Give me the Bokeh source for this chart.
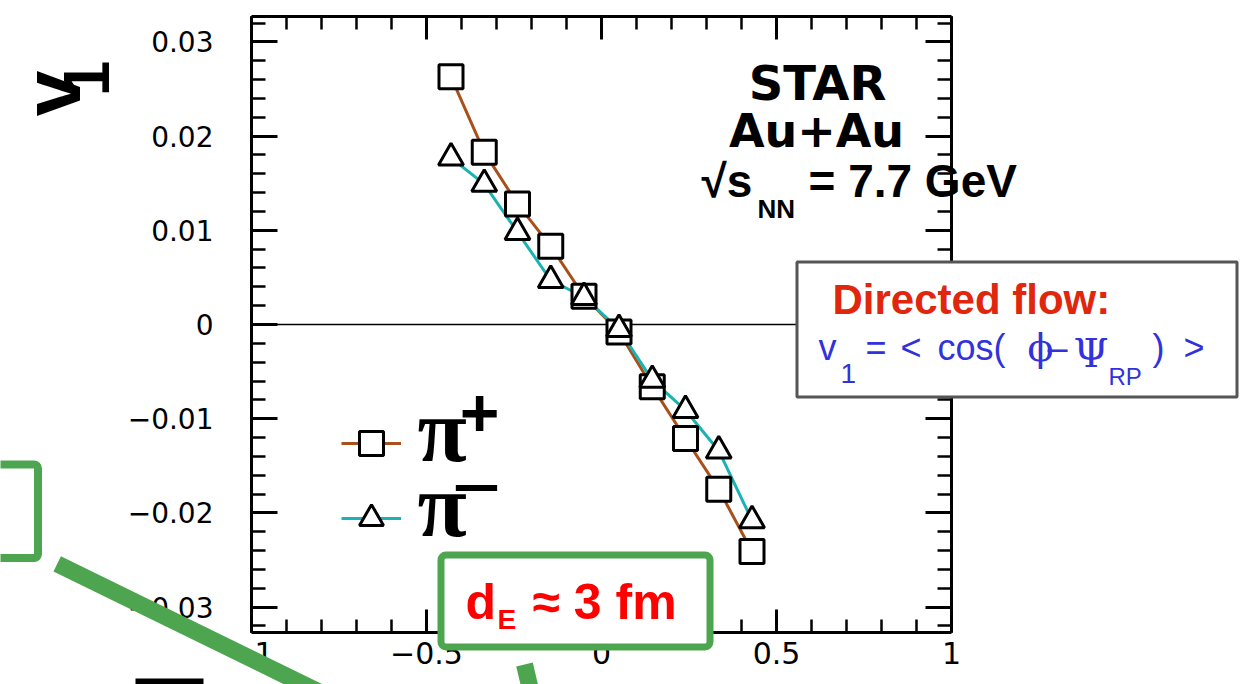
import numpy as np
from bokeh.plotting import figure
from bokeh.models import (Range1d, LinearAxis, FixedTicker, Label, BoxAnnotation,
                          Arrow, Legend, LegendItem)
from bokeh.core.properties import value
from bokeh.embed import file_html
from bokeh.resources import INLINE

# Directed flow v1 of charged pions vs pseudorapidity, STAR Au+Au at 7.7 GeV
eta = [-0.43, -0.335, -0.24, -0.145, -0.05, 0.05, 0.145, 0.24, 0.335, 0.43]
v1_pi_plus = [0.0263, 0.0183, 0.0128, 0.0083, 0.0030, -0.0008, -0.0066, -0.0121, -0.0175, -0.0241]
v1_pi_minus = [0.0177, 0.0149, 0.0098, 0.0047, 0.0029, -0.0005, -0.0059, -0.0091, -0.0134, -0.0208]

x_major = [-1, -0.5, 0, 0.5, 1]
x_labels = ["\u22121", "\u22120.5", "0", "0.5", "1"]
y_major = [-0.03, -0.02, -0.01, 0, 0.01, 0.02, 0.03]
y_labels = ["\u22120.03", "\u22120.02", "\u22120.01", "0", "0.01", "0.02", "0.03"]

# axis box limits
X0, X1 = -1.0, 1.0
Y0, Y1 = -0.0327, 0.0327

# page geometry: the axis box sits inside a full-page drawing area
W, H = 1241, 684
LEFT, TOP, FW, FH = 251, 16, 700, 616
PXU = FW / (X1 - X0)
PYU = FH / (Y1 - Y0)
XS, XE = X0 - LEFT / PXU, X1 + (W - LEFT - FW) / PXU
YE, YS = Y1 + TOP / PYU, Y0 - (H - TOP - FH) / PYU

BROWN = "#a9501a"
TEAL = "#1ab3b3"
GREEN = "#4da64f"
BLUE = "#3232dc"


def dx(px):
    # page pixel column -> x data value
    return XS + px / PXU


def dy(py):
    # page pixel row -> y data value
    return YE - py / PYU


p = figure(frame_width=W, frame_height=H,
           x_range=Range1d(XS, XE), y_range=Range1d(YS, YE),
           x_axis_location=None, y_axis_location=None,
           output_backend="svg", toolbar_location=None,
           min_border=0, background_fill_color="white", border_fill_color="white")
p.xgrid.visible = False
p.ygrid.visible = False
p.outline_line_color = None

xt = FixedTicker(ticks=x_major,
                 minor_ticks=[round(v, 2) for v in np.arange(-1.0, 1.0001, 0.1)])
yt = FixedTicker(ticks=y_major,
                 minor_ticks=[round(v, 3) for v in np.arange(-0.032, 0.03201, 0.002)])


def make_axis(ticker, loc, bounds, major_len, minor_len):
    ax = LinearAxis(ticker=ticker, fixed_location=loc, bounds=bounds)
    ax.axis_line_color = "black"
    ax.axis_line_width = 3
    ax.major_tick_line_color = "black"
    ax.major_tick_line_width = 3
    ax.minor_tick_line_color = "black"
    ax.minor_tick_line_width = 2.5
    ax.major_tick_in = major_len
    ax.major_tick_out = 0
    ax.minor_tick_in = minor_len
    ax.minor_tick_out = 0
    return ax


bx = make_axis(xt, Y0, (X0, X1), 23, 13)
bx.major_label_overrides = dict(zip(x_major, x_labels))
bx.major_label_text_font = "DejaVu Sans"
bx.major_label_text_font_size = "30px"
bx.major_label_text_color = "black"
bx.major_label_standoff = 9
p.add_layout(bx, "below")

ly = make_axis(yt, X0, (Y0, Y1), 26, 14)
ly.major_label_overrides = dict(zip(y_major, y_labels))
ly.major_label_text_font = "DejaVu Sans"
ly.major_label_text_font_size = "28px"
ly.major_label_text_color = "black"
ly.major_label_standoff = 38
p.add_layout(ly, "left")

ry = make_axis(yt, X1, (Y0, Y1), 26, 14)
ry.major_label_overrides = {v: "" for v in y_major}
ry.major_label_text_font_size = "1px"
p.add_layout(ry, "right")

tx = make_axis(xt, Y1, (X0, X1), 23, 13)
tx.major_label_overrides = {v: "" for v in x_major}
tx.major_label_text_font_size = "1px"
p.add_layout(tx, "above")

# zero reference line across the axis box
p.segment(x0=[X0], y0=[0], x1=[X1], y1=[0], line_color="black", line_width=1.5)

# data
l_plus = p.line(eta, v1_pi_plus, line_color=BROWN, line_width=3)
l_minus = p.line(eta, v1_pi_minus, line_color=TEAL, line_width=3)
s_plus = p.scatter(eta, v1_pi_plus, marker="square", size=24, line_color="black",
                   line_width=3, fill_color="white")
s_minus = p.scatter(eta, v1_pi_minus, marker="triangle", size=25, line_color="black",
                    line_width=3, fill_color="white")

legend = Legend(items=[LegendItem(label=value(""), renderers=[l_plus, s_plus]),
                       LegendItem(label=value(""), renderers=[l_minus, s_minus])],
                location=(341, 136), glyph_width=60, glyph_height=60, spacing=15,
                padding=0, margin=0, border_line_color=None,
                background_fill_alpha=0, label_standoff=0, label_width=0,
                label_height=0)
p.add_layout(legend)

BASE_SHIFT = 0.37


def put(text, x, y, size, color="black", font="Liberation Sans", style="normal",
        align="left", angle=0.0, shift=BASE_SHIFT):
    # (x, y): page pixel of the text's baseline anchor
    if angle:
        x = x - shift * size
    else:
        y = y - shift * size
    p.add_layout(Label(x=dx(x), y=dy(y), text=text, text_font=font,
                       text_font_size=f"{size}px", text_font_style=style,
                       text_color=color, text_align=align,
                       text_baseline="alphabetic", angle=angle))


# legend particle names
put("\u03c0", 417, 463, 90, font="Liberation Serif", style="bold")
put("+", 479, 437, 68, style="bold", align="center")
put("\u03c0", 417, 538, 90, font="Liberation Serif", style="bold")
put("\u2212", 476, 517, 85, align="center")

# y axis title
put("v", 76, 93, 82, style="bold", align="center", angle=np.pi / 2, shift=0.3)
put("1", 110, 78, 64, style="bold", align="center", angle=np.pi / 2)

# experiment tag
put("STAR", 817, 100, 48, font="DejaVu Sans", style="bold", align="center")
put("Au+Au", 816, 148, 46, font="DejaVu Sans", style="bold", align="center")
put("\u221as", 701, 198, 46, style="bold")
put("NN", 757, 218, 26, style="bold")
put("= 7.7 GeV", 808, 198, 46, style="bold")

# definition box
p.add_layout(BoxAnnotation(left=dx(796.5), right=dx(1236.5), top=dy(261.5),
                           bottom=dy(396.5), fill_color="white", fill_alpha=1,
                           line_color="#555555", line_alpha=1, line_width=3))
put("Directed flow:", 832, 315, 42, color="#e0260c", style="bold")
put("v", 818, 360, 36, color=BLUE)
put("1", 840, 383, 28, color=BLUE)
put("=", 865, 360, 36, color=BLUE)
put("<", 900, 360, 36, color=BLUE)
put("cos(", 937, 360, 36, color=BLUE)
put("\u03d5", 1027, 362, 38, color=BLUE, font="DejaVu Serif")
put("\u2013", 1047, 360, 36, color=BLUE)
put("\u03a8", 1073, 367, 40, color=BLUE, font="DejaVu Serif")
put("RP", 1108, 385, 24, color=BLUE)
put(")", 1152, 360, 36, color=BLUE)
put(">", 1183, 360, 36, color=BLUE)

# green callouts
p.add_layout(BoxAnnotation(left=dx(-20), right=dx(37.5), top=dy(464), bottom=dy(557.5),
                           fill_alpha=0, line_color=GREEN, line_alpha=1, line_width=8,
                           border_radius=4))
p.add_layout(Arrow(end=None, x_start=dx(56.7), y_start=dy(563.3), x_end=dx(340),
                   y_end=dy(702), line_color=GREEN, line_width=17))
p.add_layout(Arrow(end=None, x_start=dx(524), y_start=dy(664), x_end=dx(533),
                   y_end=dy(702), line_color=GREEN, line_width=17))
p.add_layout(BoxAnnotation(left=dx(135), right=dx(203), top=dy(678), bottom=dy(700),
                           fill_color="black", fill_alpha=1, line_color=None))
p.add_layout(BoxAnnotation(left=dx(440.5), right=dx(709.5), top=dy(554.5),
                           bottom=dy(646.5), fill_color="white", fill_alpha=1,
                           line_color=GREEN, line_alpha=1, line_width=7,
                           border_radius=5))
put("d", 465, 620, 50, color="#ff0000", style="bold")
put("E", 497, 629, 28, color="#ff0000", style="bold")
put("\u2248 3 fm", 532, 620, 50, color="#ff0000", style="bold")

open("out.html", "w").write(file_html(p, INLINE))
